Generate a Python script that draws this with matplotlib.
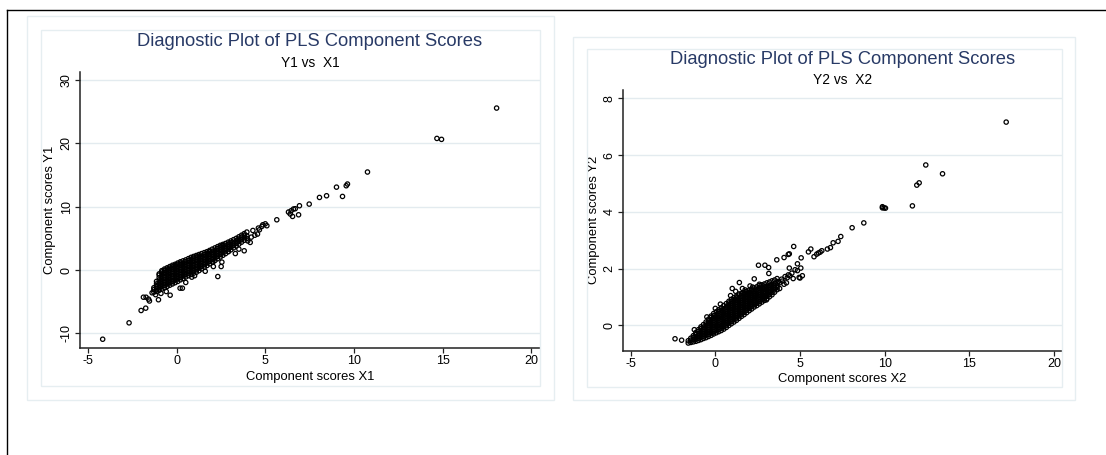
import matplotlib
matplotlib.use("Agg")
import matplotlib.pyplot as plt
from matplotlib.patches import Rectangle
from matplotlib.lines import Line2D

plt.rcParams['font.family'] = ['Liberation Sans', 'DejaVu Sans']
plt.rcParams['axes.unicode_minus'] = False

# ---------------- data ----------------
titles = ["Diagnostic Plot of PLS Component Scores", "Diagnostic Plot of PLS Component Scores"]
subtitles = ["Y1 vs  X1", "Y2 vs  X2"]
xlabels = ["Component scores X1", "Component scores X2"]
ylabels = ["Component scores Y1", "Component scores Y2"]
xticks = [-5, 0, 5, 10, 15, 20]
yticks1 = [-10, 0, 10, 20, 30]
yticks2 = [0, 2, 4, 6, 8]

# panel 1 : dense cloud (column x positions, y values in each column)
cloud1_x = [-1.3, -1.15, -1.0, -0.85, -0.7, -0.55, -0.4, -0.25, -0.1, 0.05, 0.2, 0.35,
            0.5, 0.65, 0.8, 0.95, 1.1, 1.25, 1.4, 1.55, 1.7, 1.85, 2.0, 2.15, 2.3, 2.45,
            2.6, 2.75, 2.9, 3.05, 3.2, 3.35, 3.5, 3.65, 3.8, 3.95]
cloud1_y = [
    [-3.5, -3.1, -2.8],
    [-3.4, -3.0, -2.6, -2.2, -1.8],
    [-3.2, -2.8, -2.4, -2.0, -1.6, -1.2, -0.8, -0.6],
    [-3.0, -2.6, -2.2, -1.8, -1.4, -1.0, -0.6, -0.3, -0.1],
    [-2.8, -2.4, -2.0, -1.6, -1.2, -0.8, -0.4, -0.05, 0.15],
    [-2.6, -2.2, -1.8, -1.4, -1.0, -0.6, -0.2, 0.15, 0.35],
    [-2.4, -2.0, -1.6, -1.2, -0.8, -0.4, 0.0, 0.3, 0.55],
    [-2.2, -1.8, -1.4, -1.0, -0.6, -0.2, 0.2, 0.5, 0.75],
    [-2.0, -1.6, -1.2, -0.8, -0.4, 0.0, 0.4, 0.7, 0.9],
    [-1.8, -1.4, -1.0, -0.6, -0.2, 0.2, 0.6, 0.9, 1.1],
    [-1.55, -1.15, -0.75, -0.35, 0.05, 0.45, 0.85, 1.1, 1.3],
    [-1.35, -0.95, -0.55, -0.15, 0.25, 0.65, 1.05, 1.45],
    [-1.1, -0.7, -0.3, 0.1, 0.5, 0.9, 1.3, 1.6],
    [-0.9, -0.5, -0.1, 0.3, 0.7, 1.1, 1.5, 1.8],
    [-0.7, -0.3, 0.1, 0.5, 0.9, 1.3, 1.7, 2.0],
    [-0.5, -0.1, 0.3, 0.7, 1.1, 1.5, 1.9, 2.15],
    [-0.35, 0.05, 0.45, 0.85, 1.25, 1.65, 2.05, 2.3],
    [-0.1, 0.3, 0.7, 1.1, 1.5, 1.9, 2.2, 2.45],
    [0.18, 0.58, 0.98, 1.38, 1.78, 2.18, 2.6],
    [0.44, 0.84, 1.24, 1.64, 2.04, 2.44, 2.75],
    [0.71, 1.11, 1.51, 1.91, 2.31, 2.65, 2.9],
    [0.98, 1.38, 1.78, 2.18, 2.58, 2.9, 3.1],
    [1.25, 1.65, 2.05, 2.45, 2.85, 3.3],
    [1.5, 1.9, 2.3, 2.7, 3.1, 3.5],
    [1.78, 2.18, 2.58, 2.98, 3.38, 3.7],
    [2.05, 2.45, 2.85, 3.25, 3.65, 3.9],
    [2.33, 2.73, 3.13, 3.53, 3.85, 4.05],
    [2.6, 3.0, 3.4, 3.8, 4.2],
    [2.9, 3.3, 3.7, 4.1, 4.4],
    [3.2, 3.6, 4.0, 4.3, 4.6],
    [3.5, 3.9, 4.3, 4.8],
    [3.8, 4.2, 4.6, 5.0],
    [4.1, 4.5, 4.9, 5.25],
    [4.4, 4.8, 5.2, 5.5],
    [4.7, 5.1, 5.5, 5.75],
    [5.0, 5.4, 6.0],
]
# panel 1 : scattered points
sc1_x = [-4.19, -2.70, -2.02, -1.76, -1.89, -1.74, -1.6, -1.55, -1.04, -0.38, 0.31, 0.18,
         0.5, 0.84, 2.31, 2.06, 2.5, 2.54, 2.03, 2.91, 3.8, 4.14, 4.55, 4.6, 4.85, 4.99,
         5.08, 4.8, 4.66, 4.29, 5.64, 6.3, 6.45, 6.58, 6.68, 6.92, 6.53, 6.87, 6.4, 7.47,
         8.05, 8.45, 9.35, 9.01, 9.56, 9.63, 10.76, 14.68, 14.94, 18.05,
         -1.4, -1.2, -0.9, -0.6, 1.0, 1.6, 3.3, 3.5, 4.0, 4.2, 4.4]
sc1_y = [-10.94, -8.35, -6.4, -6.03, -4.3, -4.3, -4.6, -4.9, -4.7, -3.98, -2.87, -2.87,
         -1.97, -1.13, -1.03, 0.55, 0.55, 1.25, 1.25, 2.93, 3.04, 4.36, 5.68, 6.63, 7.15, 7.3,
         7.0, 6.9, 6.36, 6.25, 7.94, 9.16, 9.37, 9.64, 9.69, 10.16, 8.47, 8.73, 8.85, 10.42,
         11.47, 11.74, 11.63, 13.1, 13.32, 13.59, 15.49, 20.8, 20.65, 25.6,
         -3.6, -3.9, -3.7, -3.4, -0.9, -0.2, 2.6, 3.3, 4.6, 5.2, 5.5]

# panel 2 : dense cloud
cloud2_x = [-1.6, -1.45, -1.3, -1.15, -1.0, -0.85, -0.7, -0.55, -0.4, -0.25, -0.1, 0.05,
            0.2, 0.35, 0.5, 0.65, 0.8, 0.95, 1.1, 1.25, 1.4, 1.55, 1.7, 1.85, 2.0, 2.15,
            2.3, 2.45, 2.6, 2.75, 2.9, 3.05, 3.2, 3.35, 3.5, 3.65]
cloud2_y = [
    [-0.62, -0.54],
    [-0.6, -0.52, -0.45],
    [-0.58, -0.5, -0.42, -0.36],
    [-0.56, -0.48, -0.4, -0.32, -0.25],
    [-0.53, -0.45, -0.37, -0.29, -0.21, -0.15],
    [-0.5, -0.42, -0.34, -0.26, -0.18, -0.11, -0.05],
    [-0.46, -0.38, -0.3, -0.22, -0.14, -0.06, 0.03],
    [-0.43, -0.35, -0.27, -0.19, -0.11, -0.03, 0.05, 0.12],
    [-0.39, -0.31, -0.23, -0.15, -0.07, 0.01, 0.09, 0.16, 0.22],
    [-0.35, -0.27, -0.19, -0.11, -0.03, 0.05, 0.13, 0.21, 0.28, 0.33],
    [-0.3, -0.22, -0.14, -0.06, 0.02, 0.1, 0.18, 0.26, 0.34, 0.42],
    [-0.26, -0.18, -0.1, -0.02, 0.06, 0.14, 0.22, 0.3, 0.38, 0.48],
    [-0.22, -0.14, -0.06, 0.02, 0.1, 0.18, 0.26, 0.34, 0.42, 0.49, 0.55],
    [-0.18, -0.1, -0.02, 0.06, 0.14, 0.22, 0.3, 0.38, 0.46, 0.54, 0.62],
    [-0.13, -0.05, 0.03, 0.11, 0.19, 0.27, 0.35, 0.43, 0.51, 0.59, 0.7],
    [-0.07, 0.01, 0.09, 0.17, 0.25, 0.33, 0.41, 0.49, 0.57, 0.65, 0.77],
    [0.0, 0.08, 0.16, 0.24, 0.32, 0.4, 0.48, 0.56, 0.64, 0.72, 0.79, 0.85],
    [0.06, 0.14, 0.22, 0.3, 0.38, 0.46, 0.54, 0.62, 0.7, 0.78, 0.85, 0.92],
    [0.12, 0.2, 0.28, 0.36, 0.44, 0.52, 0.6, 0.68, 0.76, 0.84, 0.91, 0.98],
    [0.18, 0.26, 0.34, 0.42, 0.5, 0.58, 0.66, 0.74, 0.82, 0.9, 0.97, 1.03],
    [0.25, 0.33, 0.41, 0.49, 0.57, 0.65, 0.73, 0.81, 0.89, 0.97, 1.07],
    [0.32, 0.4, 0.48, 0.56, 0.64, 0.72, 0.8, 0.88, 0.96, 1.04, 1.12],
    [0.38, 0.46, 0.54, 0.62, 0.7, 0.78, 0.86, 0.94, 1.02, 1.1, 1.16],
    [0.45, 0.53, 0.61, 0.69, 0.77, 0.85, 0.93, 1.01, 1.09, 1.2],
    [0.52, 0.6, 0.68, 0.76, 0.84, 0.92, 1.0, 1.08, 1.16, 1.24],
    [0.58, 0.66, 0.74, 0.82, 0.9, 0.98, 1.06, 1.14, 1.22, 1.28],
    [0.65, 0.73, 0.81, 0.89, 0.97, 1.05, 1.13, 1.21, 1.32],
    [0.7, 0.78, 0.86, 0.94, 1.02, 1.1, 1.18, 1.26, 1.36],
    [0.76, 0.84, 0.92, 1.0, 1.08, 1.16, 1.24, 1.32, 1.4],
    [0.82, 0.9, 0.98, 1.06, 1.14, 1.22, 1.3, 1.43],
    [0.88, 0.96, 1.04, 1.12, 1.2, 1.28, 1.36, 1.46],
    [0.94, 1.02, 1.1, 1.18, 1.26, 1.34, 1.5],
    [1.01, 1.09, 1.17, 1.25, 1.33, 1.41, 1.53],
    [1.08, 1.16, 1.24, 1.32, 1.4, 1.57],
    [1.17, 1.25, 1.33, 1.41, 1.6],
    [1.26, 1.34, 1.42, 1.5, 1.65],
]
# panel 2 : scattered points
sc2_x = [-2.38, -1.99, -1.24, 17.18, 12.43, 13.42, 11.9, 12.04, 11.64, 9.87, 9.97, 9.87,
         10.05, 8.77, 8.08, 7.41, 7.25, 6.96, 6.8, 6.62, 6.29, 6.19, 6.09, 5.99, 5.83, 5.64,
         5.5, 5.07, 4.63, 4.37, 4.31, 4.06, 3.63, 2.55, 2.93, 3.15, 3.16, 5.05, 4.85, 4.95,
         5.14, 4.71, 4.52, 4.31, 4.12, 3.92, 3.72, 3.53, 3.33, 3.04, 2.84, 4.06, 4.37, 1.42,
         2.3, 2.05, 1.76, 1.89, 1.4, 2.81, 3.23, 3.02, 5.0,
         0.3, 0.9, 1.2, 0.0, -0.5, 1.6, 2.2, 2.6, 1.0,
         3.8, 3.95, 4.25, 4.4, 4.85, 3.8, 4.2, 4.6]
sc2_y = [-0.47, -0.52, -0.15, 7.16, 5.65, 5.34, 4.94, 5.02, 4.21, 4.14, 4.14, 4.18,
         4.13, 3.61, 3.44, 3.13, 2.96, 2.91, 2.74, 2.69, 2.63, 2.58, 2.55, 2.51, 2.42, 2.69,
         2.59, 2.38, 2.78, 2.52, 2.5, 2.39, 2.31, 2.12, 2.12, 2.04, 1.83, 2.02, 2.17, 1.69,
         1.75, 1.96, 1.84, 1.78, 1.72, 1.63, 1.55, 1.49, 1.43, 1.37, 1.31, 1.45, 2.02, 1.51,
         1.64, 1.39, 1.25, 1.14, 1.11, 1.05, 1.19, 0.9, 1.67,
         0.75, 1.05, 1.2, 0.6, 0.3, 1.3, 1.35, 1.45, 1.3,
         1.5, 1.56, 1.68, 1.75, 1.93, 1.3, 1.5, 1.65]

# ---------------- figure ----------------
W, H = 1106, 455
fig = plt.figure(figsize=(W / 100, H / 100), dpi=100)
fig.patch.set_facecolor('white')

def px_rect(x0, y0, x1, y1, color, lw=1.0):
    fig.patches.append(Rectangle((x0 / W, 1 - y1 / H), (x1 - x0) / W, (y1 - y0) / H,
                                 transform=fig.transFigure, fill=False,
                                 edgecolor=color, linewidth=lw, zorder=0))

def px_line(xs, ys, color, lw=1.0):
    fig.add_artist(Line2D([x / W for x in xs], [1 - y / H for y in ys],
                          transform=fig.transFigure, color=color, linewidth=lw))

# outer frame (left and top edges)
px_line([7, 7], [455, 10], 'black', 1.0)
px_line([7, 1106], [10, 10], 'black', 1.0)

box_col = '#e6eef1'
px_rect(26.8, 16, 553.6, 400, box_col)
px_rect(41, 30, 540, 386, box_col)
px_rect(573, 36.7, 1074.8, 400, box_col)
px_rect(586.7, 49.3, 1062.4, 387, box_col)

def make_axes(l, r, t, b):
    return fig.add_axes([l / W, 1 - b / H, (r - l) / W, (b - t) / H])

ax1 = make_axes(80, 540, 72, 347.7)
ax2 = make_axes(622.7, 1062.4, 90, 350.7)

panels = [
    (ax1, cloud1_x, cloud1_y, sc1_x, sc1_y, yticks1, (-12.28, 31.3), 0),
    (ax2, cloud2_x, cloud2_y, sc2_x, sc2_y, yticks2, (-0.89, 8.29), 1),
]
title_y = [(1.1099, 1.0326), (1.1151, 1.0384)]
xlab_y = [-0.1052, -0.1086]
ylab_x = [-0.0652, -0.0653]

for ax, cx, cy, sx, sy, yt, ylim, i in panels:
    px_all = []
    py_all = []
    for xv, ys in zip(cx, cy):
        for yv in ys:
            px_all.append(xv)
            py_all.append(yv)
    px_all += sx
    py_all += sy
    ax.scatter(px_all, py_all, s=3.1 ** 2, facecolors='none', edgecolors='black',
               linewidths=0.9, zorder=3, clip_on=False)
    ax.set_xlim(-5.47, 20.5)
    ax.set_ylim(*ylim)
    ax.set_xticks(xticks)
    ax.set_yticks(yt)
    ax.set_facecolor('white')
    for s in ['top', 'right']:
        ax.spines[s].set_visible(False)
    for s in ['left', 'bottom']:
        ax.spines[s].set_color('#222222')
        ax.spines[s].set_linewidth(1.1)
    ax.grid(axis='y', color='#e3ebef', linewidth=1.0, zorder=0)
    ax.set_axisbelow(True)
    ax.tick_params(axis='both', direction='out', length=3.3, width=0.9, color='#222222',
                   labelsize=9.0, labelcolor='black')
    ax.tick_params(axis='x', pad=2.0)
    ax.tick_params(axis='y', pad=2.0)
    for lab in ax.get_yticklabels():
        lab.set_rotation(90)
        lab.set_va('center')
    ax.set_xlabel(xlabels[i], fontsize=9.4, va='center')
    ax.xaxis.set_label_coords(0.5, xlab_y[i])
    ax.set_ylabel(ylabels[i], fontsize=9.4, va='center', ha='center')
    ax.yaxis.set_label_coords(ylab_x[i], 0.5)
    ax.text(0.5, title_y[i][0], titles[i], transform=ax.transAxes, ha='center', va='center',
            fontsize=13.2, color='#283a66')
    ax.text(0.5, title_y[i][1], subtitles[i], transform=ax.transAxes, ha='center', va='center',
            fontsize=9.9, color='black')

fig.savefig('out.png', dpi=100, facecolor='white')
